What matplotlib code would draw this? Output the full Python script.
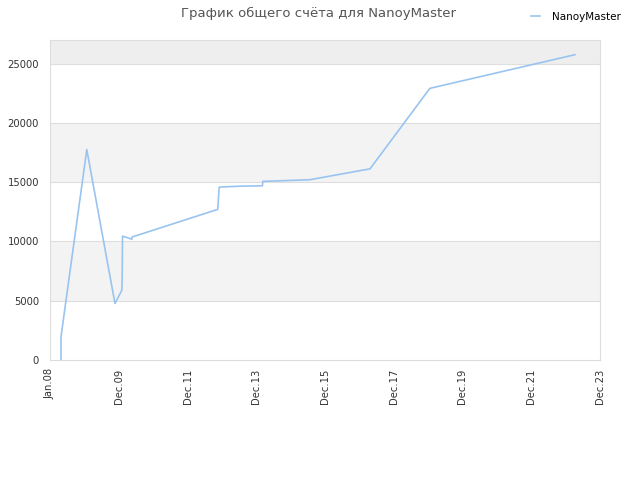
import matplotlib
matplotlib.use("Agg")
import matplotlib.pyplot as plt

# decimal years (Jan.08 = 2008.0)
years = [2008.32, 2008.32, 2009.07, 2009.89, 2010.09, 2010.10, 2010.11, 2010.13,
         2010.38, 2010.39, 2012.88, 2012.92, 2012.93, 2013.55, 2014.18, 2014.19,
         2014.98, 2015.56, 2017.31, 2019.05, 2023.27]
score = [0, 1960, 17760, 4770, 5890, 7010, 10440, 10440,
         10190, 10380, 12710, 14540, 14590, 14670, 14700, 15070,
         15150, 15210, 16130, 22920, 25760]

tick_pos = [2008, 2010, 2012, 2014, 2016, 2018, 2020, 2022, 2024]
tick_labels = ["Jan.08", "Dec.09", "Dec.11", "Dec.13", "Dec.15",
               "Dec.17", "Dec.19", "Dec.21", "Dec.23"]
y_ticks = [0, 5000, 10000, 15000, 20000, 25000]

plt.rcParams['font.family'] = ['DejaVu Sans']
fig = plt.figure(figsize=(6.4, 4.8), dpi=100)
ax = fig.add_axes([50 / 640, 120 / 480, 550 / 640, 320 / 480])

ymax = 27000
# alternating bands
for i, y0 in enumerate(y_ticks):
    y1 = min(y0 + 5000, ymax)
    if i % 2 == 1:
        ax.axhspan(y0, y1, color='#f3f3f3', zorder=0, lw=0)
ax.axhspan(25000, ymax, color='#eeeeee', zorder=0, lw=0)
for y in y_ticks[1:]:
    ax.axhline(y, color='#dedede', lw=0.8, zorder=1)

line, = ax.plot(years, score, color='#99c4f0', lw=1.2, zorder=3)

ax.set_xlim(2008, 2024)
ax.set_ylim(0, ymax)
ax.set_xticks(tick_pos)
ax.set_xticklabels(tick_labels, rotation=90, fontsize=7.2, color='#333333')
ax.set_yticks(y_ticks)
ax.set_yticklabels([str(v) for v in y_ticks], fontsize=7.2, color='#333333')
ax.tick_params(length=0, pad=8)
ax.tick_params(axis='x', pad=6)
for s in ax.spines.values():
    s.set_color('#dddddd')

fig.text(0.497, 0.972, "График общего счёта для NanoyMaster", ha='center', va='center',
         fontsize=9.5, color='#555555')
fig.legend([line], ["NanoyMaster"], loc='upper right', bbox_to_anchor=(0.985, 0.995),
           frameon=False, fontsize=7.5, handlelength=0.8, handletextpad=1.2)

fig.savefig("out.png", dpi=100)
